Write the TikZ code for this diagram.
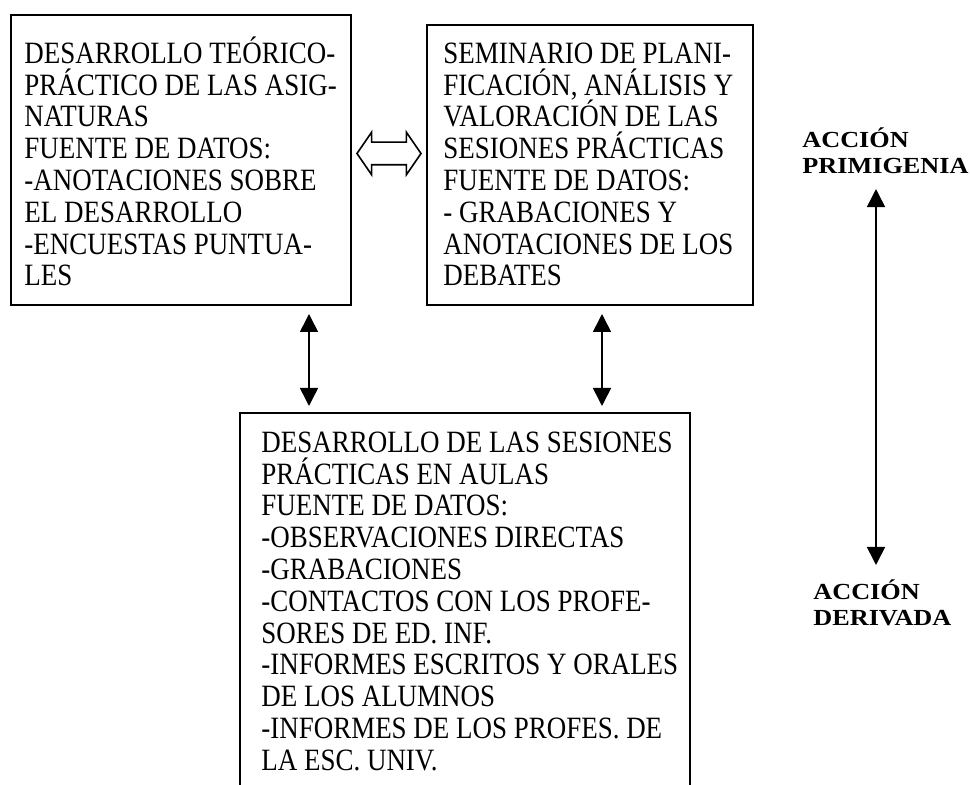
\documentclass[tikz,border=0pt]{standalone}
\usepackage{fontspec}
\setmainfont{Liberation Serif}[FakeStretch=0.87]
\newfontfamily\labelfont{Liberation Serif}[FakeStretch=1.14]
\usetikzlibrary{arrows.meta,shapes.arrows}

\tikzset{
  framebox/.style={draw, line width=1pt, inner sep=0pt, anchor=north west},
  boxtext/.style={inner sep=0pt, anchor=north west, align=left, font=\fontsize{15.5pt}{15.9pt}\selectfont},
  sidelabel/.style={inner sep=0pt, anchor=north west, align=left, font=\labelfont\bfseries\fontsize{11.5pt}{13pt}\selectfont},
  updown/.style={{Triangle[length=9pt,width=9pt]}-{Triangle[length=9pt,width=9pt]}, line width=0.8pt},
  exchange/.style={double arrow, draw, line width=0.8pt, inner xsep=0pt, inner ysep=5.25pt, minimum height=32pt, double arrow head extend=5pt, double arrow tip angle=111}
}
\newcommand{\firstline}{\rule{0pt}{15pt}}

\begin{document}
\begin{tikzpicture}[x=0.5pt,y=-0.5pt]
	\useasboundingbox (0,0) rectangle (970,785);
	
	\node[framebox, minimum width=170pt, minimum height=145pt] (lt) at (10,14) {};
	\node[framebox, minimum width=163pt, minimum height=140pt] (md) at (426,24) {};
	\node[framebox, draw=none, minimum width=224pt, minimum height=186pt] (bt) at (240,413) {};
	\draw[line width=1pt] (bt.south west) |- (bt.north east) -- (bt.south east);
	
	\node[boxtext] (lttext) at (24,33) {\firstline DESARROLLO TEÓRICO-\\PRÁCTICO DE LAS ASIG-\\NATURAS\\FUENTE DE DATOS:\\-ANOTACIONES SOBRE\\EL DESARROLLO\\-ENCUESTAS PUNTUA-\\LES};
	\node[boxtext] (mdtext) at (443,33) {\firstline SEMINARIO DE PLANI-\\FICACIÓN, ANÁLISIS Y\\VALORACIÓN DE LAS\\SESIONES PRÁCTICAS\\FUENTE DE DATOS:\\- GRABACIONES Y\\ANOTACIONES DE LOS\\DEBATES};
	\node[boxtext] (bttext) at (261,422) {\firstline DESARROLLO DE LAS SESIONES\\PRÁCTICAS EN AULAS\\FUENTE DE DATOS:\\-OBSERVACIONES DIRECTAS\\-GRABACIONES\\-CONTACTOS CON LOS PROFE-\\SORES DE ED. INF.\\-INFORMES ESCRITOS Y ORALES\\DE LOS ALUMNOS\\-INFORMES DE LOS PROFES. DE\\LA ESC. UNIV.};
	
	\node[exchange] (swapper) at (389,153.5) {};
	
	\draw[updown, shorten <=4pt, shorten >=3.5pt] ([xshift=-21.5pt]lt.south east) -- ([xshift=-21.5pt]lt.south east |- bt.north);
	\draw[updown, shorten <=4pt, shorten >=3.5pt] ([xshift=-76pt]md.south east) -- ([xshift=-76pt]md.south east |- bt.north);
	
	\node[sidelabel] (prim) at (802,123) {\rule{0pt}{12pt}ACCIÓN\\PRIMIGENIA};
	\node[sidelabel] (deriv) at (813,575) {\rule{0pt}{12pt}ACCIÓN\\DERIVADA};
	\draw[updown, shorten <=7.5pt, shorten >=5pt] ([xshift=37pt]prim.south west) -- ([xshift=37pt]prim.south west |- deriv.north);
\end{tikzpicture}
\end{document}
